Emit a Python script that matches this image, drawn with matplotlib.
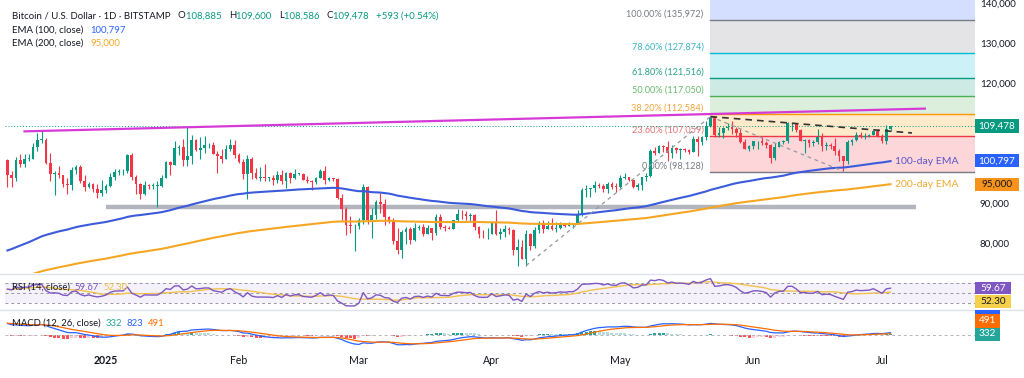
import numpy as np
import pandas as pd
import matplotlib
matplotlib.use("Agg")
import matplotlib.pyplot as plt
from matplotlib.patches import Rectangle
from matplotlib.transforms import blended_transform_factory

plt.rcParams['font.family'] = ['Lato', 'DejaVu Sans']

# ---------------- data ----------------
start_date = "2024-12-09"
first_open = 101100
closes = [97400, 96600, 101100, 100000, 101400, 101400, 104400, 106000, 106100, 100200,
          97500, 97700, 97200, 95100, 94700, 98600, 99400, 95800, 94200, 95100,
          93700, 92800, 93400,
          94400, 96900, 98100, 98200, 98300, 102200, 96900, 95000, 92500, 94700,
          94500, 94500, 94500, 96500, 100500, 99900, 104100, 104400, 101100, 102000,
          106100, 103600, 104000, 104700, 104700, 102600, 102000, 101300, 103700, 104700,
          102400,
          100600, 97600, 101400, 97800, 96600, 96600, 96500, 96500, 96100, 97400,
          95800, 97900, 96600, 97500, 97600, 96100, 95800, 95500, 96600, 98300,
          96100, 96600, 96300, 91500, 88700, 84700, 84400, 84400,
          86000, 94300, 86100, 87200, 90600, 89900, 86700, 86100, 80700, 78500,
          82900, 83700, 81100, 83900, 84300, 82600, 84000, 82700, 86800, 84200,
          84000, 83800, 86100, 87500, 87400, 86900, 87200, 84300, 82600, 82400, 82500,
          85200, 82500, 83100, 83800, 83500, 78400, 79200, 76300, 82600, 79600,
          83400, 85300, 83700, 84500, 83700, 84000, 84900, 84500, 85100, 85100,
          87500, 93400, 93700, 93900, 94700, 94600, 93800, 95000, 94300, 94200,
          96500, 96900, 95900, 94300, 94800, 96800, 97000, 103200, 102900, 104600,
          104200, 102800, 104100, 103500, 103700, 103500, 103100, 106400, 105600, 106800,
          109600, 111700, 107300, 107800, 109000, 109400, 108900, 107800, 105600, 103900, 104600,
          105700, 105800, 105400, 104700, 101500, 104300, 105600, 105700, 110200, 110300,
          108600, 105900, 106000, 105400, 105500, 106800, 104500, 104800, 104600, 103300,
          102100, 100900, 105500, 106000, 107300, 106900, 107100, 107300, 108300, 107100,
          105700, 108885, 109478]
highs = [101200, 98200, 101900, 102500, 102500, 102600, 105200, 107800, 108300, 106500,
         102800, 98200, 99500, 97400, 96400, 99400, 99900, 99900, 97300, 95600,
         95200, 94900, 96100,
         94900, 97800, 98900, 98700, 98800, 102500, 102700, 97200, 95300, 95800,
         95000, 95300, 95800, 97300, 100700, 100800, 105800, 104900, 106300, 109600,
         107200, 106300, 106800, 107100, 105300, 105500, 103200, 103700, 104800, 106400,
         106000,
         102700, 101400, 102400, 101700, 99000, 99200, 100100, 96900, 97300, 98300,
         98500, 98100, 98000, 98800, 97900, 97700, 97000, 96000, 96900, 98800,
         99500, 96900, 96500, 96500, 92500, 89300, 87100, 85100,
         86500, 95000, 94400, 88900, 91000, 92800, 91300, 86900, 86400, 84000,
         83600, 84300, 84300, 85300, 84700, 85000, 84700, 84000, 87400, 87400,
         84800, 84500, 86100, 88700, 88500, 88200, 87800, 87500, 84600, 83500, 83900,
         85500, 88500, 83900, 84700, 84200, 83800, 81200, 80900, 83500, 82700,
         84300, 85800, 86100, 85800, 86500, 85500, 85500, 85100, 85600, 85300,
         88500, 93900, 94700, 94000, 95800, 95300, 95000, 95600, 95400, 95200,
         97400, 97900, 96900, 96000, 95200, 96900, 97700, 103900, 104300, 104900,
         104900, 105700, 104900, 104400, 104100, 104000, 103700, 107000, 107100, 107100,
         110700, 111900, 111700, 109400, 109300, 110400, 110700, 109300, 108900, 106300, 104900,
         105800, 105900, 106800, 105900, 105000, 105300, 105900, 106100, 110500, 110400,
         110300, 108800, 106200, 106200, 106000, 108900, 107700, 105600, 105200, 106500,
         103900, 102000, 106100, 106300, 108100, 108000, 107800, 107600, 108500, 108800,
         107500, 109800, 109600]
lows = [94300, 94300, 95700, 99300, 99200, 100700, 101300, 103300, 105300, 100000,
        95700, 92200, 96400, 94200, 92400, 93400, 97600, 95200, 93300, 94000,
        93000, 91400, 92000,
        92800, 94200, 96000, 97400, 97300, 97900, 96100, 92500, 91200, 92200,
        93800, 93700, 89200, 94300, 96500, 97300, 99900, 102300, 99600, 99500,
        100100, 103300, 101300, 102800, 104100, 102500, 97800, 100200, 101300, 103300,
        101500,
        100300, 96200, 91200, 96200, 96200, 95700, 95700, 95700, 94700, 95300,
        94900, 94100, 95300, 96300, 97200, 96000, 95200, 93400, 95100, 96500,
        94900, 95800, 95800, 91300, 86100, 82300, 82800, 78200,
        83800, 85100, 85100, 81500, 86300, 87800, 84700, 85300, 80100, 77500,
        76600, 80000, 79900, 80800, 83600, 82000, 82400, 81100, 82300, 83700,
        83200, 83700, 83800, 85500, 86300, 85900, 85800, 83600, 81600, 81600, 81300,
        82400, 82300, 81200, 81700, 82400, 77200, 74500, 76200, 74600, 78400,
        78900, 82700, 82800, 83700, 83600, 83100, 83800, 84300, 84400, 83900,
        85000, 87100, 91700, 91700, 92900, 93900, 93000, 92800, 93800, 92900,
        94100, 96300, 95700, 94000, 93500, 93400, 95800, 96900, 102300, 102800,
        103100, 100800, 101500, 102700, 101400, 103100, 102600, 103100, 102000, 104900,
        106100, 109300, 106800, 106900, 106600, 108600, 107600, 106800, 105400, 103700, 103200,
        103900, 103700, 104900, 104100, 100400, 101100, 104200, 105100, 105300, 108400,
        108100, 105700, 102700, 104300, 104500, 105000, 103400, 103600, 103900, 102400,
        100800, 98200, 100000, 104700, 105700, 106600, 106400, 106900, 107200, 106700,
        105300, 105100, 108586]

# indicator states before the first visible candle
ema100_seed, ema200_seed = 78000, 70500
ema12_seed, ema26_seed, signal_seed = 98600, 94000, 4300
rsi_gain_seed, rsi_loss_seed = 1500, 800

# drawings
resist_dates, resist_prices = ['2024-12-13', '2025-07-11'], [108200, 113900]
support_dates, support_prices = ['2025-01-01', '2025-07-09'], [89200, 89200]
rally_dates, rally_prices = ['2025-04-09', '2025-05-22'], [74600, 111900]
pullback_dates, pullback_prices = ['2025-05-22', '2025-06-22'], [111900, 98200]
falling_dates, falling_prices = ['2025-05-22', '2025-07-08'], [111900, 107800]
fib_start = '2025-05-22'
fib_pcts = ['0.00%', '23.60%', '38.20%', '50.00%', '61.80%', '78.60%', '100.00%']
fib_prices = [98128, 107059, 112584, 117050, 121516, 127874, 135972]

legend_ohlc = ['108,885', '109,600', '108,586', '109,478']
legend_change = '+593 (+0.54%)'
ema100_last, ema200_last = '100,797', '95,000'
last_price = 109478
rsi_last, rsi_ma_last = '59.67', '52.30'
macd_hist_last, macd_last, macd_sig_last = '332', '823', '491'
price_ticks = [80000, 90000, 120000, 130000, 140000]
month_ticks = ['2025-01-01', '2025-02-01', '2025-03-01', '2025-04-01', '2025-05-01',
               '2025-06-01', '2025-07-01']
month_labels = ['2025', 'Feb', 'Mar', 'Apr', 'May', 'Jun', 'Jul']

# ---------------- helpers ----------------
W, H = 1024, 378
BASE = pd.Timestamp('2025-01-01')


def day(s):
    return (pd.Timestamp(s) - BASE).days


def fx(px):
    return px / W


def fy(py):
    return 1 - py / H


UP, DN = '#089981', '#f23645'
TXT = '#131722'

closes = np.array(closes, float)
highs = np.array(highs, float)
lows = np.array(lows, float)
dates = pd.date_range(start_date, periods=len(closes), freq='D')
x = np.array((dates - BASE).days, float)
opens = np.r_[first_open, closes[:-1]]
up = closes >= opens


def ema(vals, n, seed):
    a = 2.0 / (n + 1)
    out, e = [], seed
    for v in vals:
        e = e + a * (v - e)
        out.append(e)
    return np.array(out)


ema100 = ema(closes, 100, ema100_seed)
ema200 = ema(closes, 200, ema200_seed)

# RSI (Wilder)
g, l, p = rsi_gain_seed, rsi_loss_seed, first_open
rsi = []
for c in closes:
    d = c - p
    g = (g * 13 + max(d, 0)) / 14
    l = (l * 13 + max(-d, 0)) / 14
    rsi.append(100 - 100 / (1 + g / l))
    p = c
rsi = np.array(rsi)
rsi_ma = pd.Series(rsi).rolling(14, min_periods=1).mean().values

macd = ema(closes, 12, ema12_seed) - ema(closes, 26, ema26_seed)
signal = ema(macd, 9, signal_seed)
hist = macd - signal

# ---------------- figure ----------------
fig = plt.figure(figsize=(W / 100, H / 100), dpi=100)
fig.patch.set_facecolor('white')
L, R = 5, 975
ax = fig.add_axes([fx(L), fy(273), (R - L) / W, 273 / H])
axr = fig.add_axes([fx(L), fy(309), (R - L) / W, (309 - 275) / H])
axm = fig.add_axes([fx(L), fy(348), (R - L) / W, (348 - 311) / H])
xlim = (-23.56, 202.7)
for a in (ax, axr, axm):
    a.set_xlim(*xlim)
    for s in a.spines.values():
        s.set_visible(False)
    a.set_xticks([])
    a.set_yticks([])
    a.set_facecolor('none')
ax.set_ylim(72739, 141092)
axr.set_ylim(19.1, 85.8)
axm.set_ylim(-4700, 8700)

# separators
for py in (273.5, 309.5):
    fig.add_artist(plt.Line2D([0, 1], [fy(py), fy(py)], color='#e0e3eb', lw=1))

# Fibonacci bands
fx0 = day(fib_start)
fib_line_cols = ['#787b86', '#f23645', '#ff9800', '#4caf50', '#089981', '#00bcd4', '#787b86']
fib_fill_cols = ['#f23645', '#ff9800', '#4caf50', '#089981', '#00bcd4', '#787b86']
fib_text_cols = ['#787b86', '#e57373', '#f0a53a', '#66bb6a', '#26a085', '#3cb4c8', '#787b86']
for i in range(len(fib_prices) - 1):
    ax.fill_between([fx0, xlim[1]], fib_prices[i], fib_prices[i + 1],
                    color=fib_fill_cols[i], alpha=0.2, lw=0, zorder=0)
ax.fill_between([fx0, xlim[1]], fib_prices[-1], 141092, color='#2962ff', alpha=0.2,
                lw=0, zorder=0)
for pr, pc, lc, tc in zip(fib_prices, fib_pcts, fib_line_cols, fib_text_cols):
    ax.plot([fx0, xlim[1]], [pr, pr], color=lc, lw=1, zorder=0.5)
    ax.annotate(f'{pc} ({pr:,})', (fx0, pr), xytext=(-5, 1), textcoords='offset points',
                ha='right', va='bottom', fontsize=6.6, color=tc, zorder=1)

# last price dotted line
ax.axhline(last_price, color=UP, lw=0.7, ls=(0, (1, 2)), zorder=1)

# support (gray thick)
ax.plot([day(d) for d in support_dates], support_prices, color='#b2b5be', lw=3.2,
        solid_capstyle='butt', zorder=1)

# candles
cols = np.where(up, UP, DN)
ax.vlines(x, lows, highs, colors=cols, lw=0.8, zorder=3)
body_lo = np.minimum(opens, closes)
body_h = np.maximum(np.abs(closes - opens), 200)
ax.bar(x, body_h, bottom=body_lo, width=0.62, color=cols, lw=0, zorder=3)

# EMAs
ax.plot(x, ema100, color='#3b5bdb', lw=1.5, zorder=4)
ax.plot(x, ema200, color='#f5a623', lw=1.5, zorder=4)

# trendlines
ax.plot([day(d) for d in resist_dates], resist_prices, color='#d63ad6', lw=1.6, zorder=5)
ax.plot([day(d) for d in rally_dates], rally_prices, color='#9598a1', lw=0.9,
        ls=(0, (3, 3)), zorder=5)
ax.plot([day(d) for d in pullback_dates], pullback_prices, color='#9598a1', lw=0.9,
        ls=(0, (3, 3)), zorder=5)
ax.plot([day(d) for d in falling_dates], falling_prices, color='#333333', lw=1.2,
        ls=(0, (4, 3)), zorder=5)

# EMA labels
ax.text(x[-1] + 1, ema100[-1], '100-day EMA', color='#5a55c8', fontsize=7.5,
        va='center', ha='left', zorder=6)
ax.text(x[-1] + 1, ema200[-1], '200-day EMA', color='#f0a830', fontsize=7.5,
        va='center', ha='left', zorder=6)

# RSI panel
axr.axhspan(30, 70, color='#7e57c2', alpha=0.08, lw=0)
for lv in (70, 50, 30):
    axr.axhline(lv, color='#9598a1', lw=0.7, ls=(0, (3, 3)))
axr.plot(x, rsi_ma, color='#f2c14e', lw=1.0)
axr.plot(x, rsi, color='#7e57c2', lw=1.0)

# MACD panel
axm.axhline(0, color='#b2b5be', lw=0.7, ls=(0, (3, 3)))
hcol = []
for i, h in enumerate(hist):
    prev = hist[i - 1] if i else h
    if h >= 0:
        hcol.append('#26a69a' if h >= prev else '#b2dfdb')
    else:
        hcol.append('#ffcdd2' if h >= prev else '#ff5252')
axm.bar(x, hist, width=0.7, color=hcol, lw=0)
axm.plot(x, macd, color='#2962ff', lw=0.9)
axm.plot(x, signal, color='#ff6d00', lw=0.9)

# ---------------- texts ----------------
fig.canvas.draw()
renderer = fig.canvas.get_renderer()


def rich(x_px, y_px, parts, size, weight='normal'):
    xx = x_px
    for s, c in parts:
        t = fig.text(fx(xx), fy(y_px), s, color=c, fontsize=size, va='center',
                     ha='left', fontweight=weight, zorder=8)
        xx += t.get_window_extent(renderer).width
    return xx


def py_of(a, val):
    return H - a.transData.transform((0, val))[1]


def box(y_px, h_px, label, bg, fg, x0=975, x1=1019, size=7.2):
    fig.add_artist(Rectangle((fx(x0), fy(y_px + h_px / 2)), (x1 - x0) / W, h_px / H,
                             transform=fig.transFigure, color=bg, lw=0, zorder=5))
    if label:
        fig.text(fx((x0 + x1) / 2), fy(y_px), label, color=fg, fontsize=size,
                 ha='center', va='center', zorder=6)


# legend
fig.add_artist(Rectangle((fx(6), fy(52)), 430 / W, 46 / H, transform=fig.transFigure,
                         color='white', lw=0, zorder=4))
rich(12, 16, [('Bitcoin / U.S. Dollar · 1D · BITSTAMP   ', TXT),
              ('O', TXT), (legend_ohlc[0] + '   ', UP),
              ('H', TXT), (legend_ohlc[1] + '   ', UP),
              ('L', TXT), (legend_ohlc[2] + '   ', UP),
              ('C', TXT), (legend_ohlc[3] + '   ', UP),
              (legend_change, UP)], 6.9)
rich(12, 30, [('EMA (100, close)   ', TXT), (ema100_last, '#2962ff')], 6.9)
rich(12, 43, [('EMA (200, close)   ', TXT), (ema200_last, '#f5a623')], 6.9)

# price scale
for t in price_ticks:
    fig.text(fx(980), fy(py_of(ax, t)), f'{t:,}', color=TXT, fontsize=7.0,
             ha='left', va='center')
box(py_of(ax, last_price), 14, f'{last_price:,}', UP, 'white')
box(py_of(ax, 100797), 13, ema100_last, '#2962ff', 'white')
box(py_of(ax, 95000), 13, ema200_last, '#f7931a', TXT)

# RSI labels
rich(12, 287, [('RSI (14, close)  ', TXT), (rsi_last, '#7e57c2'), ('  ', TXT),
               (rsi_ma_last, '#f2c14e')], 6.8)
box(py_of(axr, float(rsi_last)), 12, rsi_last, '#7e57c2', 'white', x1=1011)
box(301, 13, rsi_ma_last, '#f5d04a', TXT, x1=1011)

# MACD labels
rich(12, 323, [('MACD (12, 26, close)  ', TXT), (macd_hist_last, '#26a69a'), ('  ', TXT),
               (macd_last, '#2962ff'), ('  ', TXT), (macd_sig_last, '#ff6d00')], 6.8)
box(311.5, 4, '', '#2962ff', 'white', x1=1000)
box(320.5, 14, macd_sig_last, '#ff6d00', 'white', x1=1000)
box(334, 13, macd_hist_last, '#26a69a', 'white', x1=1000)

# time axis
tr = blended_transform_factory(axm.transData, fig.transFigure)
for d, lab in zip(month_ticks, month_labels):
    fig.text(day(d), fy(360), lab, transform=tr, color=TXT, fontsize=7.6, ha='center',
             va='center', fontweight='bold' if lab == '2025' else 'normal')

fig.savefig('out.png', dpi=100, facecolor='white')
